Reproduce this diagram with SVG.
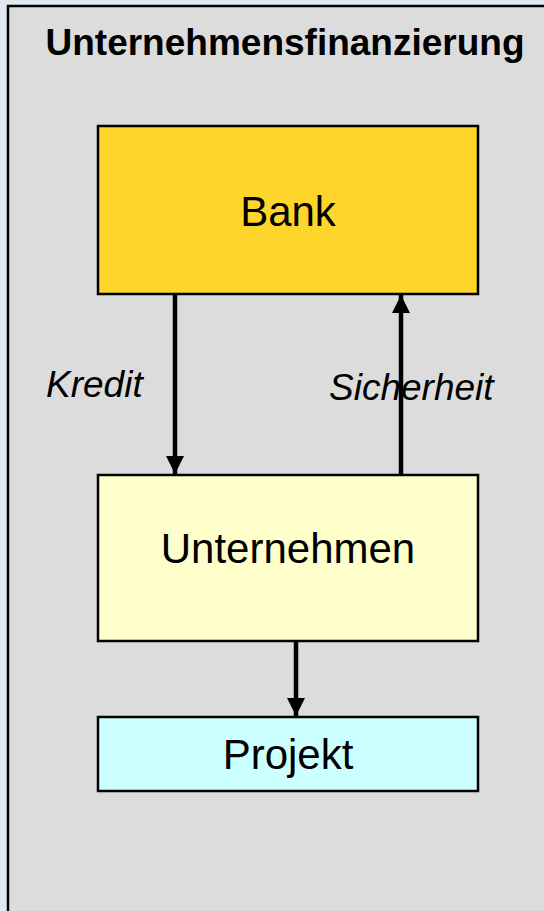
<svg xmlns="http://www.w3.org/2000/svg" width="544" height="911" viewBox="0 0 544 911">
<defs>
<style>
.box{stroke:#000;stroke-width:2.5}
.lbl{font-family:"Liberation Sans",Arial,sans-serif;font-size:42px;text-anchor:middle;fill:#000}
.it{font-family:"Liberation Sans",Arial,sans-serif;font-size:37px;font-style:italic;fill:#000}
.conn{stroke:#000;stroke-width:4.5;fill:none}
</style>
<marker id="ah" markerWidth="4" markerHeight="4" refX="4" refY="2" orient="auto" markerUnits="strokeWidth" viewBox="0 0 4 4">
<path d="M0,0 L4,2 L0,4 z" fill="#000"/>
</marker>
</defs>
<rect x="0" y="0" width="544" height="911" fill="#e2e8f0"/>
<g id="frame">
<rect x="8" y="6" width="560" height="930" fill="#dcdcdc" stroke="#000" stroke-width="2.5"/>
<text x="285" y="55" font-family="Liberation Sans,Arial,sans-serif" font-size="37" font-weight="bold" text-anchor="middle" fill="#000">Unternehmensfinanzierung</text>
</g>
<g id="bank">
<rect class="box" x="98" y="126" width="380" height="168" fill="#fed52a"/>
<text class="lbl" x="288" y="226">Bank</text>
</g>
<g id="unternehmen">
<rect class="box" x="98" y="475" width="380" height="166" fill="#ffffcc"/>
<text class="lbl" x="288" y="563">Unternehmen</text>
</g>
<g id="projekt">
<rect class="box" x="98" y="717" width="380" height="74" fill="#ccffff"/>
<text class="lbl" x="288" y="769">Projekt</text>
</g>
<g id="connectors">
<line class="conn" x1="175" y1="295" x2="175" y2="474" marker-end="url(#ah)"/>
<line class="conn" x1="401" y1="474" x2="401" y2="295" marker-end="url(#ah)"/>
<line class="conn" x1="296" y1="642" x2="296" y2="716" marker-end="url(#ah)"/>
<text class="it" x="46" y="397">Kredit</text>
<text class="it" x="329" y="400">Sicherheit</text>
</g>
</svg>
